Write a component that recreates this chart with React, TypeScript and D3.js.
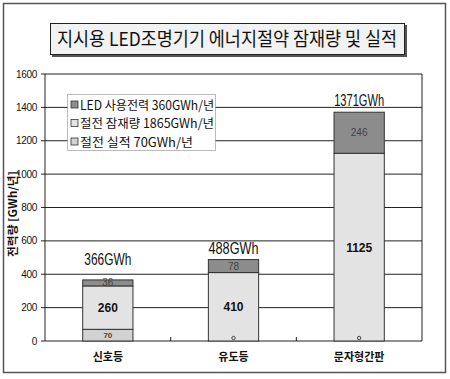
import React from "react";
import * as d3 from "d3";

const categories = ["신호등", "유도등", "문자형간판"];
const savedActual = [70, 0, 0];
const savedPotential = [260, 410, 1125];
const ledUsage = [36, 78, 246];
const totalLabels = ["366GWh", "488GWh", "1371GWh"];
const yTicks = [0, 200, 400, 600, 800, 1000, 1200, 1400, 1600];
const legendLabels = ["LED 사용전력 360GWh/년", "절전 잠재량 1865GWh/년", "절전 실적  70GWh/년"];
const title = "지시용 LED조명기기 에너지절약 잠재량 및 실적";
const yTitle = "전력량 [GWh/년]";

const W = 450, H = 379;
const plot = { left: 45, right: 422, top: 74, bottom: 341 };
const colors = { led: "#8c8c8c", potential: "#e3e3e3", actual: "#d2d2d2" };
const KFONT = "'Noto Sans CJK KR', 'Noto Sans', sans-serif";
const NFONT = "'Liberation Sans', Arial, sans-serif";
const legendWidths = [134, 134, 113];
const totalWidths = [47, 50, 50];
const totalOffsets = [15, 6, 6];

export default function App() {
  const y = d3.scaleLinear().domain([0, 1600]).range([plot.bottom, plot.top]);
  const x = d3.scaleBand().domain(categories).range([plot.left, plot.right]).paddingInner(0).paddingOuter(0);
  const bw = x.bandwidth() * 0.4;

  const stack = categories.map((c, i) => {
    const a = savedActual[i], p = savedPotential[i], l = ledUsage[i];
    return [
      { key: "actual", y0: 0, y1: a, v: a },
      { key: "potential", y0: a, y1: a + p, v: p },
      { key: "led", y0: a + p, y1: a + p + l, v: l },
    ];
  });

  return (
    <svg width={W} height={H} style={{ position: "absolute", left: 0, top: 0, background: "#fff" }}>
      <rect x={3.5} y={3.5} width={442} height={369} fill="#fff" stroke="#555" strokeWidth={1.5} />
      {/* title box */}
      <rect x={52} y={25} width={355} height={32} fill="#555" />
      <rect x={50.5} y={23.5} width={354} height={31} fill="#f2f2f2" stroke="#222" strokeWidth={1} />
      <text x={227} y={46} textAnchor="middle" fontFamily={KFONT} fontSize={19} fill="#111" textLength={340} lengthAdjust="spacingAndGlyphs">{title}</text>

      {/* grid lines & plot frame */}
      {yTicks.map((t) => (
        <line key={t} x1={plot.left - 4} x2={plot.right} y1={y(t)} y2={y(t)} stroke="#222" strokeWidth={1} />
      ))}
      <line x1={plot.left} x2={plot.left} y1={plot.top} y2={plot.bottom} stroke="#222" />
      <line x1={plot.right} x2={plot.right} y1={plot.top} y2={plot.bottom} stroke="#222" />
      {yTicks.map((t) => (
        <text key={t} x={37} y={y(t) + 3.5} textAnchor="end" fontFamily={NFONT} fontSize={10} fill="#111" letterSpacing={-0.3}>{t}</text>
      ))}
      {[1, 2].map((k) => {
        const xx = plot.left + k * x.step();
        return <line key={k} x1={xx} x2={xx} y1={plot.bottom} y2={plot.bottom - 4} stroke="#222" />;
      })}
      <text transform={`translate(17,214) rotate(-90)`} textAnchor="middle" fontFamily={KFONT} fontSize={11} fontWeight="bold" fill="#111" textLength={86} lengthAdjust="spacingAndGlyphs">{yTitle}</text>

      {/* legend */}
      <rect x={67.5} y={94.5} width={148} height={56} fill="#fff" stroke="#777" strokeDasharray="1,1" />
      {legendLabels.map((l, i) => (
        <g key={i} transform={`translate(71,${105 + i * 18.5})`}>
          <rect x={0} y={-4} width={7} height={7} fill={[colors.led, colors.potential, colors.actual][i]} stroke="#333" strokeWidth={0.8} />
          <text x={9} y={4.5} fontFamily={KFONT} fontSize={12.5} fill="#111" textLength={legendWidths[i]} lengthAdjust="spacingAndGlyphs">{l}</text>
        </g>
      ))}

      {/* bars */}
      {stack.map((segs, i) => {
        const cx = (x(categories[i]) as number) + x.bandwidth() / 2;
        const x0 = cx - bw / 2;
        return (
          <g key={i}>
            {segs.map((s) => s.v > 0 ? (
              <rect key={s.key} x={x0} y={y(s.y1)} width={bw} height={y(s.y0) - y(s.y1)} fill={(colors as any)[s.key]} stroke="#333" strokeWidth={1} />
            ) : null)}
            {segs.map((s) => {
              const cy = (y(s.y0) + y(s.y1)) / 2;
              if (s.key === "potential") return <text key={s.key + "t"} x={cx} y={cy + 4.5} textAnchor="middle" fontFamily={NFONT} fontSize={12} fontWeight="bold" fill="#111">{s.v}</text>;
              if (s.key === "led") return <text key={s.key + "t"} x={cx} y={cy + 3.5} textAnchor="middle" fontFamily={NFONT} fontSize={10} fill="#444">{s.v}</text>;
              return s.v > 0
                ? <text key={s.key + "t"} x={cx} y={cy + 3} textAnchor="middle" fontFamily={NFONT} fontSize={8} fontWeight="bold" fill="#444">{s.v}</text>
                : <circle key={s.key + "c"} cx={cx} cy={y(0) - 3} r={1.7} fill="none" stroke="#444" strokeWidth={1} />;
            })}
            <text x={cx} y={y(segs[2].y1) - totalOffsets[i]} textAnchor="middle" fontFamily={NFONT} fontSize={16} fill="#111" textLength={totalWidths[i]} lengthAdjust="spacingAndGlyphs">{totalLabels[i]}</text>
            <text x={cx} y={361} textAnchor="middle" fontFamily={KFONT} fontSize={11} fontWeight="bold" fill="#111">{categories[i]}</text>
          </g>
        );
      })}
    </svg>
  );
}
